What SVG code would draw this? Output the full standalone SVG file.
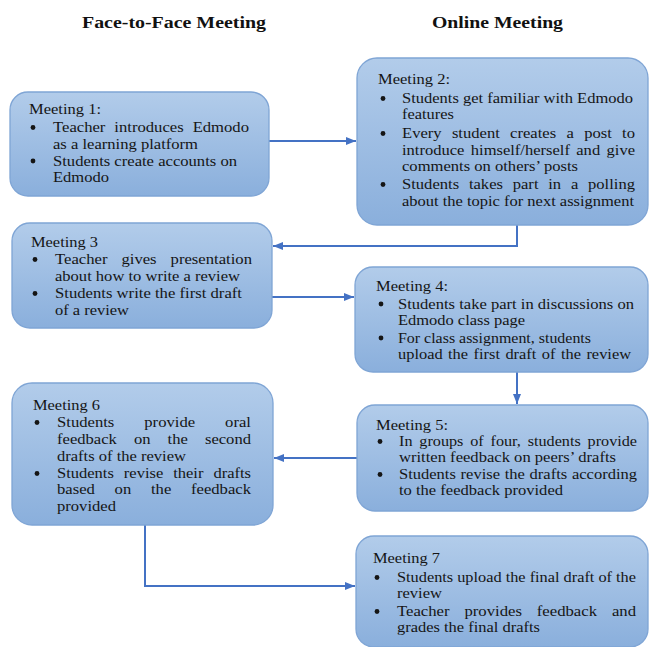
<svg xmlns="http://www.w3.org/2000/svg" width="649" height="647" viewBox="0 0 649 647">
<defs>
<linearGradient id="boxfill" x1="0" y1="0" x2="0" y2="1">
<stop offset="0" stop-color="#B2CCEA"/>
<stop offset="1" stop-color="#8AAFDC"/>
</linearGradient>
<marker id="arr" markerWidth="10" markerHeight="8" refX="10" refY="4" orient="auto" markerUnits="userSpaceOnUse">
<path d="M0,0 L10,4 L0,8 z" fill="#4472C4"/>
</marker>
<style>
.box{fill:url(#boxfill);stroke:#7FA5D5;stroke-width:1.3}
.t{font-family:"Liberation Serif","Times New Roman",serif;font-size:14.5px;fill:#151515}
.dot{fill:#151515}
.hd{font-family:"Liberation Serif","Times New Roman",serif;font-size:17px;font-weight:bold;fill:#111}
.c{fill:none;stroke:#4472C4;stroke-width:2}
</style>
</defs>
<rect width="649" height="647" fill="#ffffff"/>

<g id="headings">
<text class="hd" x="82" y="28" textLength="184" lengthAdjust="spacingAndGlyphs">Face-to-Face Meeting</text>
<text class="hd" x="432" y="28" textLength="131" lengthAdjust="spacingAndGlyphs">Online Meeting</text>
</g>

<g id="connectors">
<path class="c" d="M269,141 H356" marker-end="url(#arr)"/>
<path class="c" d="M517,225 V246 H273" marker-end="url(#arr)"/>
<path class="c" d="M272,297 H354" marker-end="url(#arr)"/>
<path class="c" d="M517,372 V404" marker-end="url(#arr)"/>
<path class="c" d="M357,458 H274" marker-end="url(#arr)"/>
<path class="c" d="M145,525 V586 H355" marker-end="url(#arr)"/>
</g>

<g id="meeting1">
<rect class="box" x="10" y="92" width="259" height="104" rx="18"/>
<text class="t" x="29" y="114" textLength="72" lengthAdjust="spacingAndGlyphs">Meeting 1:</text>
<circle class="dot" cx="33" cy="127.5" r="2.4"/>
<text class="t" x="53" y="132" textLength="196" lengthAdjust="spacingAndGlyphs" word-spacing="4.2">Teacher introduces Edmodo</text>
<text class="t" x="53" y="148.5" textLength="145" lengthAdjust="spacingAndGlyphs">as a learning platform</text>
<circle class="dot" cx="33" cy="161" r="2.4"/>
<text class="t" x="53" y="165.5" textLength="184" lengthAdjust="spacingAndGlyphs">Students create accounts on</text>
<text class="t" x="53" y="182" textLength="56" lengthAdjust="spacingAndGlyphs">Edmodo</text>
</g>

<g id="meeting2">
<rect class="box" x="357" y="58" width="291" height="167" rx="20"/>
<text class="t" x="378" y="84" textLength="72" lengthAdjust="spacingAndGlyphs">Meeting 2:</text>
<circle class="dot" cx="383" cy="98.5" r="2.4"/>
<text class="t" x="402" y="103" textLength="231" lengthAdjust="spacingAndGlyphs">Students get familiar with Edmodo</text>
<text class="t" x="402" y="119" textLength="52" lengthAdjust="spacingAndGlyphs">features</text>
<circle class="dot" cx="383" cy="133.5" r="2.4"/>
<text class="t" x="402" y="138" textLength="233" lengthAdjust="spacingAndGlyphs" word-spacing="5.4">Every student creates a post to</text>
<text class="t" x="402" y="155" textLength="233" lengthAdjust="spacingAndGlyphs" word-spacing="2">introduce himself/herself and give</text>
<text class="t" x="402" y="171" textLength="176" lengthAdjust="spacingAndGlyphs">comments on others’ posts</text>
<circle class="dot" cx="383" cy="184.5" r="2.4"/>
<text class="t" x="402" y="189" textLength="233" lengthAdjust="spacingAndGlyphs" word-spacing="4.9">Students takes part in a polling</text>
<text class="t" x="402" y="206" textLength="232" lengthAdjust="spacingAndGlyphs">about the topic for next assignment</text>
</g>

<g id="meeting3">
<rect class="box" x="12" y="223" width="260" height="105" rx="18"/>
<text class="t" x="31" y="247" textLength="67" lengthAdjust="spacingAndGlyphs">Meeting 3</text>
<circle class="dot" cx="35" cy="259.5" r="2.4"/>
<text class="t" x="55" y="264" textLength="197" lengthAdjust="spacingAndGlyphs" word-spacing="8.5">Teacher gives presentation</text>
<text class="t" x="55" y="280.5" textLength="185" lengthAdjust="spacingAndGlyphs">about how to write a review</text>
<circle class="dot" cx="35" cy="293.5" r="2.4"/>
<text class="t" x="55" y="298" textLength="187" lengthAdjust="spacingAndGlyphs">Students write the first draft</text>
<text class="t" x="55" y="315" textLength="74" lengthAdjust="spacingAndGlyphs">of a review</text>
</g>

<g id="meeting4">
<rect class="box" x="355" y="267" width="293" height="105" rx="18"/>
<text class="t" x="376" y="291" textLength="72" lengthAdjust="spacingAndGlyphs">Meeting 4:</text>
<circle class="dot" cx="381" cy="304" r="2.4"/>
<text class="t" x="398" y="308.5" textLength="236" lengthAdjust="spacingAndGlyphs">Students take part in discussions on</text>
<text class="t" x="398" y="324.5" textLength="127" lengthAdjust="spacingAndGlyphs">Edmodo class page</text>
<circle class="dot" cx="381" cy="338" r="2.4"/>
<text class="t" x="398" y="342.5" textLength="193" lengthAdjust="spacingAndGlyphs">For class assignment, students</text>
<text class="t" x="398" y="358.5" textLength="233" lengthAdjust="spacingAndGlyphs" word-spacing="1.2">upload the first draft of the review</text>
</g>

<g id="meeting5">
<rect class="box" x="357" y="405" width="291" height="106" rx="18"/>
<text class="t" x="376" y="430" textLength="72" lengthAdjust="spacingAndGlyphs">Meeting 5:</text>
<circle class="dot" cx="380" cy="441.5" r="2.4"/>
<text class="t" x="399" y="446" textLength="238" lengthAdjust="spacingAndGlyphs" word-spacing="2.5">In groups of four, students provide</text>
<text class="t" x="399" y="462" textLength="217" lengthAdjust="spacingAndGlyphs">written feedback on peers’ drafts</text>
<circle class="dot" cx="380" cy="474.5" r="2.4"/>
<text class="t" x="399" y="479" textLength="238" lengthAdjust="spacingAndGlyphs" word-spacing="0.5">Students revise the drafts according</text>
<text class="t" x="399" y="495" textLength="164" lengthAdjust="spacingAndGlyphs">to the feedback provided</text>
</g>

<g id="meeting6">
<rect class="box" x="12" y="383" width="261" height="142" rx="20"/>
<text class="t" x="33" y="410" textLength="67" lengthAdjust="spacingAndGlyphs">Meeting 6</text>
<circle class="dot" cx="37" cy="422.5" r="2.4"/>
<text class="t" x="57" y="427" textLength="194" lengthAdjust="spacingAndGlyphs" word-spacing="22.5">Students provide oral</text>
<text class="t" x="57" y="444" textLength="194" lengthAdjust="spacingAndGlyphs" word-spacing="11.3">feedback on the second</text>
<text class="t" x="57" y="461" textLength="129" lengthAdjust="spacingAndGlyphs">drafts of the review</text>
<circle class="dot" cx="37" cy="473.5" r="2.4"/>
<text class="t" x="57" y="478" textLength="194" lengthAdjust="spacingAndGlyphs" word-spacing="5.1">Students revise their drafts</text>
<text class="t" x="57" y="494" textLength="194" lengthAdjust="spacingAndGlyphs" word-spacing="13.6">based on the feedback</text>
<text class="t" x="57" y="511" textLength="59" lengthAdjust="spacingAndGlyphs">provided</text>
</g>

<g id="meeting7">
<rect class="box" x="356" y="536" width="292" height="111" rx="18"/>
<text class="t" x="373" y="563" textLength="67" lengthAdjust="spacingAndGlyphs">Meeting 7</text>
<circle class="dot" cx="377" cy="577.5" r="2.4"/>
<text class="t" x="397" y="582" textLength="239" lengthAdjust="spacingAndGlyphs">Students upload the final draft of the</text>
<text class="t" x="397" y="598" textLength="45" lengthAdjust="spacingAndGlyphs">review</text>
<circle class="dot" cx="377" cy="611.5" r="2.4"/>
<text class="t" x="397" y="616" textLength="239" lengthAdjust="spacingAndGlyphs" word-spacing="9.3">Teacher provides feedback and</text>
<text class="t" x="397" y="632" textLength="143" lengthAdjust="spacingAndGlyphs">grades the final drafts</text>
</g>
</svg>
